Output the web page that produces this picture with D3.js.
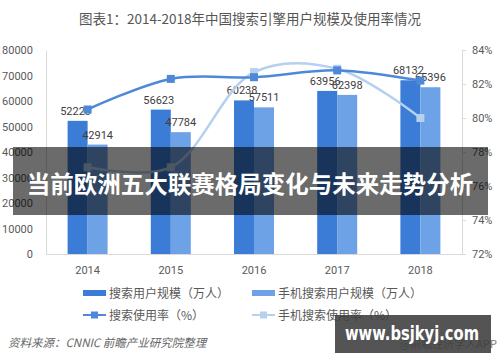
<!DOCTYPE html>
<html>
<head>
<meta charset="utf-8">
<script src="https://cdn.jsdelivr.net/npm/d3@7"></script>
<style>
  body { margin: 0; background: #fff; }
  svg { display: block; font-family: "Noto Sans CJK SC", "Noto Sans", sans-serif; }
</style>
</head>
<body>
<div class="chart"></div>
<script>
// data
var years = ["2014", "2015", "2016", "2017", "2018"];
var searchUsers = [52223, 56623, 60238, 63956, 68132];
var mobileUsers = [42914, 47784, 57511, 62398, 65396];
var searchRate = [80.5, 82.3, 82.4, 82.8, 82.2];
var mobileRate = [77.1, 77.1, 82.7, 82.9, 80.0];
var leftTicks = [0, 10000, 20000, 30000, 40000, 50000, 60000, 70000, 80000];
var rightTicks = [72, 74, 76, 78, 80, 82, 84];

var width = 500,
    height = 362;

var svg = d3.select(".chart").append("svg")
  .attr("width", width)
  .attr("height", height);

var x = d3.scaleBand().domain(years).range([46, 462]);
var y = d3.scaleLinear().domain([0, 80000]).range([254, 50]);
var y2 = d3.scaleLinear().domain([72, 84]).range([254, 50]);

var dark = "#3b7cd6",
    light = "#6ea2e7",
    darkLine = "#4d89d8",
    lightLine = "#b7d0ef";

// title
svg.append("text")
  .attr("x", 250).attr("y", 24)
  .attr("text-anchor", "middle")
  .style("font-size", "13.5px")
  .style("fill", "#555")
  .text("图表1：2014-2018年中国搜索引擎用户规模及使用率情况");

// axes
var left = svg.append("g").attr("transform", "translate(46,0)")
  .call(d3.axisLeft(y).tickValues(leftTicks).tickSize(0).tickPadding(13).tickFormat(d3.format("d")));
left.select(".domain").attr("stroke", "#d9d9d9");
left.selectAll("text").style("font-size", "11px").style("fill", "#595959").style("font-family", "Roboto, sans-serif");

var right = svg.append("g").attr("transform", "translate(462,0)")
  .call(d3.axisRight(y2).tickValues(rightTicks).tickSize(4).tickPadding(6).tickFormat(function(d) { return d + "%"; }));
right.select(".domain").attr("stroke", "#d9d9d9");
right.selectAll("line").attr("stroke", "#d9d9d9");
right.selectAll("text").style("font-size", "11px").style("fill", "#595959").style("font-family", "Roboto, sans-serif");

var bottom = svg.append("g").attr("transform", "translate(0,254)")
  .call(d3.axisBottom(x).tickSize(0).tickPadding(12));
bottom.select(".domain").attr("stroke", "#d9d9d9");
bottom.selectAll("text").style("font-size", "11px").style("fill", "#595959").style("font-family", "Roboto, sans-serif");

var bw = 20;

// bars
svg.selectAll(".bar1")
  .data(searchUsers)
  .enter().append("rect")
  .attr("x", function(d, i) { return x(years[i]) + x.bandwidth() / 2 - bw; })
  .attr("y", function(d) { return y(d); })
  .attr("width", bw)
  .attr("height", function(d) { return 254 - y(d); })
  .style("fill", dark);

svg.selectAll(".bar2")
  .data(mobileUsers)
  .enter().append("rect")
  .attr("x", function(d, i) { return x(years[i]) + x.bandwidth() / 2; })
  .attr("y", function(d) { return y(d); })
  .attr("width", bw)
  .attr("height", function(d) { return 254 - y(d); })
  .style("fill", light);

// bar labels
svg.selectAll(".lab1")
  .data(searchUsers)
  .enter().append("text")
  .attr("x", function(d, i) { return x(years[i]) + x.bandwidth() / 2 - bw / 2 - 2; })
  .attr("y", function(d) { return y(d) - 6; })
  .attr("text-anchor", "middle")
  .style("font-size", "11px")
  .style("fill", "#404040")
  .style("font-family", "Roboto, sans-serif")
  .text(function(d) { return d; });

svg.selectAll(".lab2")
  .data(mobileUsers)
  .enter().append("text")
  .attr("x", function(d, i) { return x(years[i]) + x.bandwidth() / 2 + bw / 2; })
  .attr("y", function(d) { return y(d) - 6; })
  .attr("text-anchor", "middle")
  .style("font-size", "11px")
  .style("fill", "#404040")
  .style("font-family", "Roboto, sans-serif")
  .text(function(d) { return d; });

// rate lines
var line = d3.line()
  .x(function(d, i) { return x(years[i]) + x.bandwidth() / 2; })
  .y(function(d) { return y2(d); })
  .curve(d3.curveCatmullRom.alpha(0.5));

svg.append("path").datum(mobileRate)
  .attr("d", line)
  .style("fill", "none")
  .style("stroke", lightLine)
  .style("stroke-width", 2.5);

svg.selectAll(".pt2")
  .data(mobileRate)
  .enter().append("rect")
  .attr("x", function(d, i) { return x(years[i]) + x.bandwidth() / 2 - 4; })
  .attr("y", function(d) { return y2(d) - 4; })
  .attr("width", 8).attr("height", 8)
  .style("fill", lightLine);

svg.append("path").datum(searchRate)
  .attr("d", line)
  .style("fill", "none")
  .style("stroke", darkLine)
  .style("stroke-width", 2.5);

svg.selectAll(".pt1")
  .data(searchRate)
  .enter().append("rect")
  .attr("x", function(d, i) { return x(years[i]) + x.bandwidth() / 2 - 4; })
  .attr("y", function(d) { return y2(d) - 4; })
  .attr("width", 8).attr("height", 8)
  .style("fill", darkLine);

// legend
var legend = [
  { name: "搜索用户规模（万人）", type: "bar", color: dark, x: 83, y: 293 },
  { name: "手机搜索用户规模（万人）", type: "bar", color: light, x: 252, y: 293 },
  { name: "搜索使用率（%）", type: "line", color: darkLine, x: 83, y: 315 },
  { name: "手机搜索使用率（%）", type: "line", color: lightLine, x: 252, y: 315 }
];

var lg = svg.selectAll(".legend").data(legend).enter().append("g");
lg.filter(function(d) { return d.type == "bar"; }).append("rect")
  .attr("x", function(d) { return d.x; })
  .attr("y", function(d) { return d.y - 3; })
  .attr("width", 23).attr("height", 6)
  .style("fill", function(d) { return d.color; });
lg.filter(function(d) { return d.type == "line"; }).append("line")
  .attr("x1", function(d) { return d.x; })
  .attr("x2", function(d) { return d.x + 23; })
  .attr("y1", function(d) { return d.y; })
  .attr("y2", function(d) { return d.y; })
  .style("stroke", function(d) { return d.color; })
  .style("stroke-width", 2);
lg.filter(function(d) { return d.type == "line"; }).append("rect")
  .attr("x", function(d) { return d.x + 8; })
  .attr("y", function(d) { return d.y - 3.5; })
  .attr("width", 7).attr("height", 7)
  .style("fill", function(d) { return d.color; });
lg.append("text")
  .attr("x", function(d) { return d.x + 26; })
  .attr("y", function(d) { return d.y + 4.5; })
  .style("font-size", "12px")
  .style("fill", "#595959")
  .text(function(d) { return d.name; });

// source
svg.append("text")
  .attr("x", 8).attr("y", 347)
  .style("font-size", "11.5px")
  .style("font-style", "italic")
  .style("fill", "#666")
  .text("资料来源：CNNIC 前瞻产业研究院整理");

svg.append("text")
  .attr("x", 497).attr("y", 348)
  .attr("text-anchor", "end")
  .style("font-size", "11px")
  .style("fill", "#777")
  .text("@前瞻经济学人APP");

// banner overlay
svg.append("rect")
  .attr("x", 13).attr("y", 147)
  .attr("width", 475).attr("height", 68)
  .style("fill", "rgba(0,0,0,0.58)");

svg.append("text")
  .attr("x", 250).attr("y", 193)
  .attr("text-anchor", "middle")
  .style("font-size", "23.5px")
  .style("font-weight", "bold")
  .style("fill", "#fff")
  .text("当前欧洲五大联赛格局变化与未来走势分析");

// site stamp
svg.append("rect")
  .attr("x", 335).attr("y", 315)
  .attr("width", 156).attr("height", 38)
  .style("fill", "rgba(60,60,60,0.88)");

svg.append("text")
  .attr("x", 345).attr("y", 340)
  .attr("textLength", 134)
  .attr("lengthAdjust", "spacingAndGlyphs")
  .style("font-size", "19px")
  .style("font-weight", "bold")
  .style("fill", "#fff")
  .style("font-family", "\"DejaVu Sans\", sans-serif")
  .text("www.bsjkyj.com");
</script>
</body>
</html>
